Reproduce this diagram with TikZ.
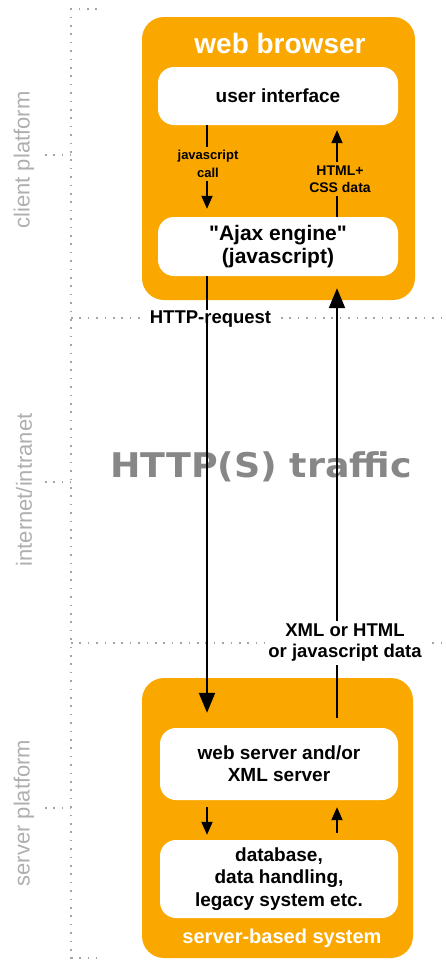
\documentclass[tikz,border=0pt]{standalone}
\usepackage{fontspec}
\setmainfont{Liberation Sans}
% same face without the TeX quote mapping, so " stays straight
\newfontfamily\plainsans{Liberation Sans}
\newfontfamily\widefont{DejaVu Sans}
\usetikzlibrary{arrows.meta}
\definecolor{ajaxorange}{RGB}{250,168,0}
\definecolor{dotgray}{RGB}{165,165,165}
\definecolor{sidegray}{RGB}{175,175,175}
\definecolor{trafficgray}{RGB}{135,135,135}
\newcommand{\fs}[1]{\fontsize{#1}{#1}\selectfont}

\begin{document}
\begin{tikzpicture}[x=1pt,y=-1pt,
  outerbox/.style={fill=ajaxorange, rounded corners=22pt, inner sep=0pt},
  innerbox/.style={fill=white, rounded corners=16pt, inner sep=0pt,
    align=center, font=\bfseries\fs{19}},
  dotline/.style={dotgray, line width=1.6pt, dash pattern=on 1.6pt off 6.8pt},
  sidelabel/.style={sidegray, rotate=90, font=\fs{22}},
  flow/.style={line width=2.2pt, -{Triangle[length=20pt,width=16pt]}},
  plainflow/.style={line width=2.2pt},
  smallflow/.style={line width=1.8pt, -{Triangle[length=13pt,width=11pt]}},
  smallline/.style={line width=1.8pt},
  smalllabel/.style={font=\bfseries\fs{13}, align=center, inner sep=3pt},
  flowlabel/.style={font=\bfseries\fs{18.5}, align=center, fill=white, inner sep=3pt}]
\useasboundingbox (0,0) rectangle (445,961);

% platform brackets on the left
\draw[dotline] (97,9) -- (71,9) -- (71,961);
\draw[dotline] (71,958) -- (97,958);
\draw[dotline] (45,155) -- (71,155);
\draw[dotline] (45,482) -- (71,482);
\draw[dotline] (45,808) -- (71,808);
\draw[dotline] (71,318) -- (445,318);
\draw[dotline] (71,643) -- (445,643);

\node[sidelabel] (client) at (24,160) {client platform};
\node[sidelabel] (inet) at (24,490) {internet/intranet};
\node[sidelabel] (server) at (24,813) {server platform};

% client side
\node[outerbox, minimum width=273pt, minimum height=283pt] (browser) at (278.5,158.5) {};
\node[white, font=\bfseries\fs{28}] (browsertitle) at (280,43) {web browser};
\node[innerbox, minimum width=240pt, minimum height=58pt] (ui) at (278,96) {user interface};
\node[innerbox, minimum width=240pt, minimum height=59pt, font=\plainsans\bfseries\fs{21}] (ajax) at (278,246.5)
  {"Ajax engine"\\[2pt](javascript)};

% server side
\node[outerbox, minimum width=271pt, minimum height=280pt] (serverbox) at (277.5,818) {};
\node[innerbox, minimum width=238pt, minimum height=72pt] (websrv) at (279,764)
  {web server and/or\\[3pt]XML server};
\node[innerbox, minimum width=238pt, minimum height=78pt] (db) at (279,879)
  {database,\\[3.5pt]data handling,\\[3.5pt]legacy system etc.};
\node[white, font=\bfseries\fs{20}] (srvtitle) at (282,938) {server-based system};

% traffic label
\node[trafficgray, font=\widefont\bfseries\fs{34}, xscale=1.07] (traffic) at (261,467) {HTTP(S) traffic};

% columns of the connectors
\coordinate (down) at (207,0);
\coordinate (up) at (337,0);

% inside the browser
\node[smalllabel] (jscall) at (208,164) {javascript\\[5pt]call};
\draw[smallline] (ui.south -| down) -- (jscall.north -| down);
\draw[smallflow, shorten >=8pt] (jscall.south -| down) -- (ajax.north -| down);

\node[smalllabel, font=\bfseries\fs{14}] (htmlcss) at (340,179) {HTML+\\[3pt]CSS data};
\draw[smallline] (ajax.north -| up) -- (htmlcss.south -| up);
\draw[smallflow, shorten >=5pt] (htmlcss.north -| up) -- (ui.south -| up);

% across the network
\node[flowlabel] (request) at (210.5,319) {HTTP-request};
\draw[plainflow] (ajax.south -| down) -- ([yshift=-2pt]request.north -| down);
\draw[flow, shorten >=15pt] ([yshift=10pt]request.south -| down) -- (websrv.north -| down);

\node[flowlabel] (response) at (345,643) {XML or HTML\\[2.5pt]or javascript data};
\draw[plainflow, shorten <=10pt] (websrv.north -| up) -- (response.south -| up);
\draw[flow, shorten >=12pt] (response.north -| up) -- (ajax.south -| up);

% inside the server
\draw[smallflow, shorten <=7pt, shorten >=5pt] (websrv.south -| down) -- (db.north -| down);
\draw[smallflow, shorten <=7pt, shorten >=7pt] (db.north -| up) -- (websrv.south -| up);
\end{tikzpicture}
\end{document}
